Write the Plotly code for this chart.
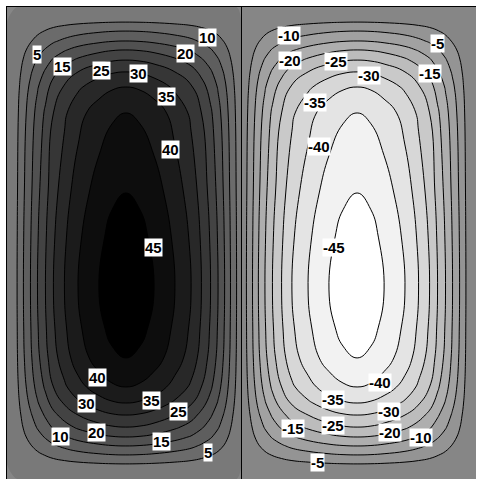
import numpy as np
import plotly.graph_objects as go

# Horizontal profile of one cell: position from the outer wall (fraction of cell width) and value
CELL_X = [0, 0.043, 0.070, 0.100, 0.130, 0.164, 0.198, 0.245, 0.303, 0.392, 0.448, 0.507,
          0.567, 0.627, 0.716, 0.785, 0.829, 0.868, 0.900, 0.928, 0.953, 0.979, 1.0]
CELL_V = [0, 5, 10, 15, 20, 25, 30, 35, 40, 45, 47.2, 48,
          47.2, 45, 40, 35, 30, 25, 20, 15, 10, 5, 0]

# Vertical profile (from bottom to top) and value
Y_NODES = [0, 0.064, 0.102, 0.140, 0.178, 0.220, 0.271, 0.322, 0.390, 0.513, 0.644, 0.801,
           1.025, 1.212, 1.551, 1.661, 1.725, 1.775, 1.818, 1.856, 1.898, 1.936, 2.0]
Y_VALS = [0, 5, 10, 15, 20, 25, 30, 35, 40, 45, 47, 48,
          47, 45, 40, 35, 30, 25, 20, 15, 10, 5, 0]
PEAK = 48.0

# Contour label texts and positions (data coordinates)
LABEL_TEXT = ["5", "15", "25", "30", "10", "20", "35", "40", "45", "40", "30", "35", "25",
              "20", "10", "15", "5",
              "-10", "-20", "-25", "-30", "-5", "-15", "-35", "-40", "-45", "-40", "-35",
              "-30", "-25", "-20", "-10", "-15", "-5"]
LABEL_X = [0.128, 0.235, 0.401, 0.559, 0.853, 0.763, 0.682, 0.699, 0.623, 0.388, 0.341, 0.618,
           0.733, 0.380, 0.230, 0.657, 0.857,
           1.203, 1.207, 1.403, 1.544, 1.834, 1.804, 1.313, 1.330, 1.394, 1.591, 1.390,
           1.629, 1.390, 1.633, 1.765, 1.220, 1.326]
LABEL_Y = [1.797, 1.750, 1.733, 1.720, 1.869, 1.801, 1.619, 1.398, 0.983, 0.432, 0.322, 0.331,
           0.288, 0.195, 0.178, 0.157, 0.114,
           1.881, 1.775, 1.771, 1.708, 1.847, 1.720, 1.597, 1.411, 0.983, 0.411, 0.339,
           0.284, 0.225, 0.195, 0.174, 0.212, 0.072]

cx = np.array(CELL_X)
cv = np.array(CELL_V)
# left cell positive, right cell mirrored and negative
x_all = np.concatenate([cx, (2 - cx[::-1])[1:]])
xv_all = np.concatenate([cv, (-cv[::-1])[1:]])
y_all = np.array(Y_NODES)
yv_all = np.array(Y_VALS)
z = np.outer(yv_all, xv_all) / PEAK

fig = go.Figure()
# filled bands, no lines
fig.add_trace(go.Contour(
    x=x_all, y=y_all, z=z,
    zmin=-50, zmax=50,
    autocontour=False,
    contours=dict(start=-45, end=45, size=5, coloring="fill", showlabels=False),
    colorscale=[[0, "rgb(255,255,255)"], [1, "rgb(0,0,0)"]],
    line=dict(width=0, smoothing=1.3),
    showscale=False,
    hoverinfo="skip",
))
# contour lines, positive and negative levels (no zero line along the walls)
for s, e in [(5, 45), (-45, -5)]:
    fig.add_trace(go.Contour(
        x=x_all, y=y_all, z=z,
        autocontour=False,
        contours=dict(start=s, end=e, size=5, coloring="none", showlabels=False),
        line=dict(color="black", width=1, smoothing=1.3),
        showscale=False,
        hoverinfo="skip",
    ))

for t, lx, ly in zip(LABEL_TEXT, LABEL_X, LABEL_Y):
    fig.add_annotation(x=lx, y=ly, text=t, showarrow=False,
                       font=dict(family="Liberation Sans, Arial", size=15, color="black", weight="bold"),
                       bgcolor="white", borderpad=0)

fig.update_layout(
    width=479, height=479,
    margin=dict(l=7, r=3, t=7, b=0),
    paper_bgcolor="white", plot_bgcolor="rgb(128,128,128)",
    showlegend=False,
)
fig.update_xaxes(range=[0, 2], showgrid=False, zeroline=False, showticklabels=False, ticks="",
                 showline=True, linecolor="black", linewidth=1, side="top")
fig.update_yaxes(range=[0, 2], showgrid=False, zeroline=False, showticklabels=False, ticks="",
                 showline=True, linecolor="black", linewidth=1)
fig.add_vline(x=1, line=dict(color="black", width=1))

fig.write_html("out.html", config={"displayModeBar": False},
               post_script="document.body.style.margin='0';document.body.style.overflow='hidden';")
